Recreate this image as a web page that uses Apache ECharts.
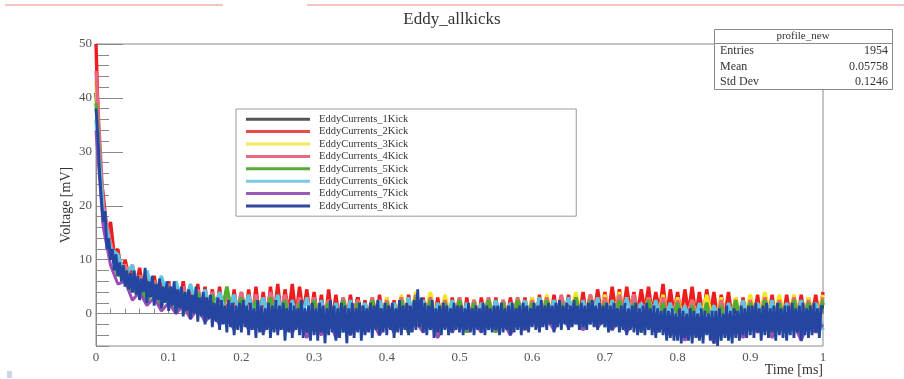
<!DOCTYPE html>
<html>
<head>
<meta charset="utf-8">
<script src="https://cdn.jsdelivr.net/npm/echarts@6/dist/echarts.min.js"></script>
<style>html,body{margin:0;padding:0;background:#fff;}#chart{width:904px;height:379px;}</style>
</head>
<body>
<div id="chart"></div>
<script>
// ---- data (mV) ----
const seriesNames = ['EddyCurrents_1Kick','EddyCurrents_2Kick','EddyCurrents_3Kick','EddyCurrents_4Kick','EddyCurrents_5Kick','EddyCurrents_6Kick','EddyCurrents_7Kick','EddyCurrents_8Kick'];
const finestStepMs = 0.0025; // sample spacing of 8Kick
const fineStepMs = 0.005;    // sample spacing of 2Kick
const coarseStepMs = 0.01;   // sample spacing of the other kicks
const yTickLabels = [0, 10, 20, 30, 40, 50];
const xTickLabels = [0, 0.1, 0.2, 0.3, 0.4, 0.5, 0.6, 0.7, 0.8, 0.9, 1];

const kick1 = [41,19,12,8,8.5,4,6.5,2.5,5.5,1.5,
 5,0.5,4,-0.5,3.5,-1,3,-1.5,3,-2,
 2.5,-2.5,3,-2.5,2.5,-3,2,-3,2.5,-3.5,
 2,-3,2.5,-3.5,2,-3,3,-3,2,-3,
 2.5,-3,2,-3.5,2.5,-3,2,-3,2.5,-3,
 2,-3.5,2.5,-3,2,-3,2.5,-3.5,2,-3,
 2.5,-2.5,2,-3,2.5,-2.5,2,-3,2.5,-2.5,
 2,-3,2.5,-2.5,2,-3,2.5,-3,2,-3.5,
 2,-4,1.5,-4,2.5,-4,2,-3.5,1.5,-4,
 2,-3.5,2,-4,1.5,-3.5,2,-4,1.5,-3.5,
 2];
const kick2 = [50,27,22,15,17,11,12,8,10,7,
 9,5,8.5,4,7.5,4,7,3,6.5,2.5,
 6,2,5.5,1.5,6,1,5,0.5,5.5,0,
 5,0,4.5,-0.5,5,-1,4,-1,4.5,-1.5,
 4,-1,4.5,-1.5,5,-1,4,-1.5,5,-0.5,
 5.5,-1,4.5,0,5.5,-0.5,5,0,4.5,-1,
 4,-1.5,3.5,-2,4.5,-1.5,3.5,-2,3,-1.5,
 3.5,-2,3,-1.5,2.5,-2,3,-2.5,3.5,-1.5,
 3,-2,2.5,-1.5,3,-2,3.5,-1.5,4,-2,
 3,-1.5,3.5,-2,3,-1.5,2.5,-2,3,-1.5,
 2.5,-2,3,-1.5,2.5,-2,3,-1,2.5,-1.5,
 3,-2,2.5,-1.5,3,-1,2.5,-1.5,3,-1,
 3,-1.5,3.5,-1,3,-1.5,3.5,-1,3,-0.5,
 3.5,-1,3,-0.5,4,-1,3.5,-0.5,4.5,0,
 4,0,5,0.5,4.5,0,5,0.5,4,0,
 4.5,0.5,5,0,4,0.5,5.5,-0.5,4.5,0,
 4,-0.5,4.5,0,5,-0.5,4,-1,4.5,0,
 4,-1,3.5,-0.5,4,-1,3,-1.5,3,-1,
 3,-1,3.5,-1.5,3,-1,3.5,-1.5,3,-1,
 3.5,-1,3,-1.5,3.5,-1,3,-0.5,3.5,-1,
 4];
const kick3 = [43,18,13,8,9,5,7,3,6,2,
 5,1,4.5,0,4,-0.5,3.5,-1,3,-1.5,
 3.5,-2,3,-2.5,2.5,-2,3,-3,2.5,-2.5,
 2,-3,2.5,-3,3,-2.5,2.5,-3,3,-2.5,
 3,-2.5,3.5,-2,4,-2,4,-2.5,3.5,-2,
 3,-2.5,2.5,-2,3,-2.5,2.5,-2,3,-2.5,
 3,-2,3.5,-2,3,-1.5,4,-2,3.5,-1.5,
 3.5,-1.5,4,-2,3.5,-1.5,3,-2,3.5,-2.5,
 3,-2,2.5,-2.5,3.5,-2,3,-2.5,3,-2,
 3.5,-2,4,-1.5,3.5,-2,3.5,-2,3,-1.5,
 3.5];
const kick4 = [45,20,13,8,9,4.5,7,3,6,2,
 5.5,1,5,0,4.5,-0.5,4,-1,3.5,-1.5,
 4,-1.5,3.5,-2,4,-1.5,3.5,-2,3,-2.5,
 3,-2.5,2.5,-3,3,-2.5,2.5,-3,3,-2.5,
 2.5,-3,3,-2.5,3.5,-2.5,3,-3,2.5,-2.5,
 3,-3,2.5,-2.5,3,-3,2.5,-2.5,3,-2,
 2.5,-2,3,-2.5,3.5,-2,3,-2,3.5,-1.5,
 3,-1.5,3.5,-2,3.5,-1.5,3,-2,3,-2,
 2.5,-2.5,2.5,-3,2,-3,2.5,-2.5,2.5,-3,
 2.5,-2.5,3,-2.5,2.5,-3,3,-2.5,2.5,-2.5,
 3];
const kick5 = [39,17,12,7,8,4,6,2,5.5,1.5,
 5,0.5,4,0,4,-1,3.5,-1.5,5,-2,
 3,-2.5,2.5,-3,3,-2.5,2.5,-3.5,2,-3,
 2.5,-3.5,2,-3,2.5,-3.5,2,-3,2.5,-3.5,
 2,-3,2.5,-3.5,3,-3,2.5,-3.5,2,-3,
 2.5,-3.5,2,-3,2.5,-3.5,2,-3,2.5,-3,
 2,-2.5,2.5,-3,2,-2.5,3,-3,2.5,-2.5,
 2,-3,2.5,-3,2,-3.5,2.5,-3,2,-3.5,
 2,-4,1.5,-4.5,2,-4,1.5,-4.5,2.5,-4,
 2,-3.5,2.5,-4,2,-3.5,2.5,-4,2,-3.5,
 2.5];
const kick6 = [36,19,12,11,7,9,4,8,3,7,
 2,6,1,5.5,0,4.5,-0.5,4,-1,3.5,
 -1.5,3.5,-2,3,-2,3.5,-2.5,2.5,-2.5,3,
 -3,2.5,-3,2,-3.5,2.5,-3,2,-3,2.5,
 -2.5,2,-3,3,-2.5,2.5,-3,2,-2.5,2.5,
 -3,2,-2.5,2,-3,2.5,-2.5,2,-2,2.5,
 -2,3,-2,2.5,-1.5,3,-2,2.5,-2,3,
 -2.5,2.5,-2,3,-2.5,2,-3,2.5,-2.5,2,
 -3,1.5,-3.5,2,-3,1.5,-3.5,2,-3,2.5,
 -3,2,-2.5,2.5,-3,2,-3,2.5,-2.5,2,
 -3];
const kick7 = [34,16,9,5.5,6,2.5,4,1.5,3,0.5,
 2,0,1.5,-1,1,-1.5,0,-2,-0.5,-3,
 0,-3,-1,-3.5,-0.5,-3,-1,-3.5,-1,-4.5,
 -1.5,-4,-1,-4.5,-1.5,-4,-1,-3.5,-1.5,-4,
 -1,-3.5,-1,-3,-1.5,-3.5,-1,-4.5,-1.5,-3.5,
 -1,-3,-1.5,-3.5,-1,-3,-1.5,-4,-1,-3,
 -0.5,-2.5,-1,-3,-0.5,-2.5,-1,-3,-0.5,-2.5,
 -1,-3,-1,-3.5,-1.5,-3,-1,-3.5,-2,-4,
 -2,-5,-2.5,-4.5,-2,-5.5,-2.5,-4,-2,-4.5,
 -1.5,-3.5,-2,-4.5,-1.5,-3.5,-2,-5,-1.5,-3.5,
 -2];
const kick8 = [38,33,26,21,17,19,12,14,10,12,8,11,7,9.5,6,9,5,8,4.5,7.5,
 4,8,3.5,7,2.5,6.5,4,8.5,2,6,3,7,1.5,5.5,2.5,6.5,1,5,2,6,
 0.5,5,1.5,6,0,4.5,1,5,-0.5,4,0.5,4.5,-1,3.5,0,5,-1.5,3,-0.5,4,
 -2,3,-1,3.5,-2.5,2,-1.5,3,-3,2.5,-2,1.5,-3.5,2.5,-2.5,2,-4,1.5,-3,2,
 -3.5,2.5,-2.5,1.5,-4,2,-3,1,-4.5,2.5,-3.5,1.5,-4,1,-3,2,-4.5,1.5,-3.5,2.5,
 -4,1.5,-3,2,-5,1,-3.5,2,-4.5,1.5,-3,1,-4,2.5,-4.5,1,-3.5,1.5,-5,2,
 -4,1,-5,2,-3.5,1.5,-5.5,1,-4,2.5,-3.5,1.5,-5,1,-4.5,2,-3.5,1.5,-5.5,1,
 -4,2,-4.5,1,-3.5,2,-5,1.5,-4,1,-3.5,2,-4.5,1.5,-3,2.5,-4,1,-3.5,2,
 -4,1.5,-3,2,-4.5,1,-3.5,2.5,-4,1.5,-3,2,-4,1.5,-3.5,2.5,-3,4.5,-2.5,3,
 -3.5,2,-4,1.5,-3,2.5,-4.5,1,-3.5,1.5,-4,2,-3,1.5,-4,1,-3.5,2,-3,1.5,
 -3.5,1.5,-4,1,-3,2,-3.5,1,-4,1.5,-3,1,-3.5,2,-4,1.5,-3,1,-3.5,1.5,
 -3,1.5,-4,2,-3.5,1,-3,1.5,-4,2,-3.5,1,-3,1.5,-4,2,-3,1.5,-3.5,1,
 -2.5,2,-3,1.5,-3.5,2.5,-2.5,1.5,-3,2,-2,1.5,-3.5,2,-2.5,2.5,-3,1.5,-2,2,
 -3,1.5,-2.5,2.5,-2,1.5,-3,2,-2.5,1.5,-3,2,-2,2.5,-2.5,1.5,-3,2,-2,1.5,
 -2.5,2,-3.5,1.5,-3,2,-2.5,1,-3.5,1.5,-3,2,-4,1,-3,1.5,-3.5,2,-4,1,
 -3.5,1.5,-4,2,-3,1,-4,1.5,-4.5,1,-3.5,0.5,-4,1,-5,0.5,-4.5,1,-5,0,
 -5,1,-5.5,0.5,-4.5,0,-5,1,-5.5,0.5,-4.5,0,-5,1,-5.5,0.5,-4,0,-5,0.5,
 -5.5,0.5,-6,1,-5,0,-4.5,1.5,-5,0.5,-5.5,1,-4.5,0.5,-5,1.5,-4,1,-4.5,1.5,
 -4,1.5,-4.5,2,-3.5,1,-5,1.5,-4,2,-4.5,1,-3.5,1.5,-5,2,-4,1,-4.5,1.5,
 -5,1.5,-4,2,-4.5,1,-3.5,1.5,-5,2,-4,1,-4.5,1.5,-4,2,-3.5,1,-4.5,1.5,
 1];

const kickValues = [kick1, kick2, kick3, kick4, kick5, kick6, kick7, kick8];
const kickSteps = [coarseStepMs, fineStepMs, coarseStepMs, coarseStepMs, coarseStepMs, coarseStepMs, coarseStepMs, finestStepMs];

// ---- styles ----
const colors = ['#262626','#ee1c1c','#f4e61c','#ea6680','#4fae2c','#5cc6e0','#9a4db8','#2446a0'];
const legendColors = ['#555555','#e84a4a','#f2ea5a','#e86a82','#5aaa3a','#7ccbe0','#9a5ab8','#3048a0'];
const widths = [3.4,3.4,3.4,3.4,3.4,3.4,3.0,2.8];
const serif = 'Liberation Serif';

const series = kickValues.map((vals, k) => ({
  name: seriesNames[k],
  type: 'line',
  xAxisIndex: 0, yAxisIndex: 0,
  showSymbol: false, symbol: 'none',
  data: vals.map((v, i) => [+(i * kickSteps[k]).toFixed(4), v]),
  lineStyle: { color: colors[k], width: widths[k], join: 'bevel' },
  itemStyle: { color: legendColors[k] },
  emphasis: { disabled: true },
  silent: true
}));

const chart = echarts.init(document.getElementById('chart'), null, { renderer: 'canvas' });
chart.setOption({
  animation: false,
  backgroundColor: '#fff',
  grid: { left: 96, right: 81, top: 44, bottom: 33, show: true, borderColor: '#8a8a8a', borderWidth: 1, backgroundColor: 'transparent' },
  legend: {
    data: seriesNames,
    orient: 'vertical',
    left: 236, top: 109,
    padding: [4, 168, 4, 10],
    itemGap: 0,
    itemWidth: 64, itemHeight: 3,
    icon: 'rect',
    backgroundColor: '#fff',
    borderColor: '#999', borderWidth: 1,
    textStyle: { fontFamily: serif, fontSize: 10.5, color: '#333', lineHeight: 12.4, padding: [0, 0, 0, 4] },
    selectedMode: false
  },
  xAxis: {
    type: 'value', min: 0, max: 1, interval: 0.1,
    axisLine: { show: true, lineStyle: { color: '#8a8a8a' } },
    axisTick: { show: true, inside: true, length: 10, lineStyle: { color: '#8a8a8a' } },
    minorTick: { show: true, splitNumber: 5, length: 5, lineStyle: { color: '#8a8a8a' } },
    axisLabel: { margin: 5, color: '#555', fontFamily: serif, fontSize: 13,
      customValues: xTickLabels, formatter: v => String(+v.toFixed(2)) },
    splitLine: { show: false }
  },
  yAxis: [
    {
      type: 'value', min: -6, max: 50, interval: 2,
      axisLine: { show: true, lineStyle: { color: '#8a8a8a' } },
      axisTick: { show: true, inside: true, length: 13, lineStyle: { color: '#8a8a8a' } },
      axisLabel: { show: false },
      splitLine: { show: false }
    },
    {
      type: 'value', min: -6, max: 50, position: 'left',
      axisLine: { show: false },
      axisTick: { show: true, inside: true, length: 27, customValues: yTickLabels, lineStyle: { color: '#8a8a8a' } },
      axisLabel: { show: true, margin: 4, color: '#555', fontFamily: serif, fontSize: 13, customValues: yTickLabels },
      splitLine: { show: false }
    }
  ],
  series: series,
  graphic: [
    { type: 'line', shape: { x1: 5, y1: 5, x2: 223, y2: 5 }, style: { stroke: '#f2c4c4', lineWidth: 2 }, silent: true },
    { type: 'line', shape: { x1: 307, y1: 5, x2: 904, y2: 5 }, style: { stroke: '#f2c4c4', lineWidth: 2 }, silent: true },
    { type: 'rect', shape: { x: 7, y: 371, width: 5, height: 7 }, style: { fill: '#c9d6e8' }, silent: true },
    { type: 'text', x: 452, y: 20, style: { text: 'Eddy_allkicks', font: '17px "Liberation Serif"', fill: '#333', textAlign: 'center', textVerticalAlign: 'middle' }, silent: true },
    { type: 'text', x: 823, y: 370, style: { text: 'Time [ms]', font: '14px "Liberation Serif"', fill: '#333', textAlign: 'right', textVerticalAlign: 'middle' }, silent: true },
    { type: 'text', x: 66, y: 205, rotation: Math.PI / 2, style: { text: 'Voltage [mV]', font: '14px "Liberation Serif"', fill: '#333', textAlign: 'center', textVerticalAlign: 'middle' }, silent: true },
    {
      type: 'group', z: 100, silent: true,
      children: [
        { type: 'rect', shape: { x: 714.5, y: 29.5, width: 178, height: 60 }, style: { fill: '#fff', stroke: '#8a8a8a', lineWidth: 1 } },
        { type: 'line', shape: { x1: 714.5, y1: 43.5, x2: 892.5, y2: 43.5 }, style: { stroke: '#8a8a8a', lineWidth: 1 } },
        { type: 'text', x: 803, y: 36.5, style: { text: 'profile_new', font: '11px "Liberation Serif"', fill: '#333', textAlign: 'center', textVerticalAlign: 'middle' } },
        { type: 'text', x: 720, y: 51, style: { text: 'Entries', font: '12px "Liberation Serif"', fill: '#333', textVerticalAlign: 'middle' } },
        { type: 'text', x: 888, y: 51, style: { text: '1954', font: '12px "Liberation Serif"', fill: '#333', textAlign: 'right', textVerticalAlign: 'middle' } },
        { type: 'text', x: 720, y: 66.5, style: { text: 'Mean', font: '12px "Liberation Serif"', fill: '#333', textVerticalAlign: 'middle' } },
        { type: 'text', x: 888, y: 66.5, style: { text: '0.05758', font: '12px "Liberation Serif"', fill: '#333', textAlign: 'right', textVerticalAlign: 'middle' } },
        { type: 'text', x: 720, y: 82, style: { text: 'Std Dev', font: '12px "Liberation Serif"', fill: '#333', textVerticalAlign: 'middle' } },
        { type: 'text', x: 888, y: 82, style: { text: '0.1246', font: '12px "Liberation Serif"', fill: '#333', textAlign: 'right', textVerticalAlign: 'middle' } }
      ]
    }
  ]
});
</script>
</body>
</html>
